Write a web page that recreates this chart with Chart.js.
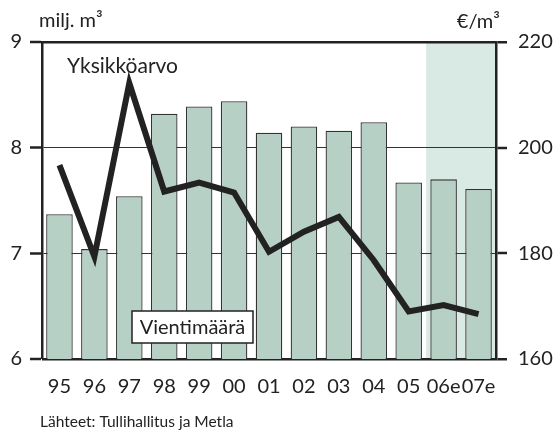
<!DOCTYPE html>
<html>
<head>
<meta charset="utf-8">
<script src="https://cdn.jsdelivr.net/npm/chart.js@4"></script>
<style>
  html, body { margin: 0; padding: 0; background: #fff; }
  #wrap { width: 556px; height: 431px; }
</style>
</head>
<body>
<div id="wrap"><canvas id="myChart" width="556" height="431"></canvas></div>
<script>
// data
const years = ['95', '96', '97', '98', '99', '00', '01', '02', '03', '04', '05', '06e', '07e'];
const exportVolume = [7.37, 7.04, 7.54, 8.32, 8.39, 8.44, 8.14, 8.20, 8.16, 8.24, 7.67, 7.70, 7.61]; // milj. m3
const unitValue = [196.7, 179.4, 212.2, 191.7, 193.4, 191.5, 180.3, 184.1, 186.9, 178.7, 169.0, 170.2, 168.5]; // €/m3
const leftTicks = [6, 7, 8, 9];
const rightTicks = [160, 180, 200, 220];
const forecastFrom = 11; // first estimated year (06e)

const FONT = 'Lato, "Open Sans", sans-serif';
const INK = '#222';

const overlay = {
	id: 'overlay',
	beforeDraw(chart) {
		// shaded forecast zone
		const ctx = chart.ctx, a = chart.chartArea, x = chart.scales.x;
		const step = x.getPixelForValue(1) - x.getPixelForValue(0);
		const x0 = x.getPixelForValue(forecastFrom) - step / 2;
		ctx.save();
		ctx.fillStyle = '#d9e9e3';
		ctx.fillRect(x0, a.top, a.right - x0, a.bottom - a.top);
		ctx.restore();
	},
	afterDraw(chart) {
		const ctx = chart.ctx, a = chart.chartArea;
		ctx.save();
		ctx.fillStyle = INK;
		ctx.textBaseline = 'alphabetic';
		ctx.font = '20px ' + FONT;
		ctx.textAlign = 'left';
		ctx.fillText('milj. m³', a.left - 3, 27);
		ctx.textAlign = 'right';
		ctx.fillText('€/m³', a.right + 4, 28);

		ctx.textAlign = 'left';
		ctx.font = '21px ' + FONT;
		ctx.fillText('Yksikköarvo', a.left + 25, a.top + 31);

		// boxed label
		const bx = a.left + 90, by = a.top + 269, bw = 121, bh = 32;
		ctx.fillStyle = '#fff';
		ctx.fillRect(bx, by, bw, bh);
		ctx.strokeStyle = INK;
		ctx.lineWidth = 1.5;
		ctx.strokeRect(bx, by, bw, bh);
		ctx.fillStyle = INK;
		ctx.textAlign = 'center';
		ctx.font = '20px ' + FONT;
		ctx.fillText('Vientimäärä', bx + bw / 2, by + 23);

		ctx.textAlign = 'left';
		ctx.font = '15.5px ' + FONT;
		ctx.fillText('Lähteet: Tullihallitus ja Metla', 40, 427);
		ctx.restore();
	}
};

const canvas = document.getElementById('myChart').getContext('2d');

const chartConfig = {
	type: 'bar',
	data: {
		labels: years,
		datasets: [
			{
				type: 'line',
				label: 'Yksikköarvo',
				data: unitValue,
				yAxisID: 'y1',
				borderColor: INK,
				borderWidth: 6,
				borderJoinStyle: 'miter',
				pointRadius: 0,
				tension: 0,
				order: 0,
			},
			{
				label: 'Vientimäärä',
				data: exportVolume,
				yAxisID: 'y',
				backgroundColor: '#b7d0c5',
				borderColor: '#333',
				borderWidth: 1.3,
				barPercentage: 0.76,
				categoryPercentage: 1,
				order: 1,
			},
		],
	},
	options: {
		responsive: false,
		animation: false,
		layout: { padding: { top: 42, bottom: 27, left: 0, right: 0 } },
		plugins: {
			legend: { display: false },
			tooltip: { enabled: false },
		},
		scales: {
			x: {
				grid: { display: false, drawTicks: false },
				border: { display: false },
				ticks: {
					color: INK,
					font: { family: FONT, size: 20 },
					padding: 16,
					autoSkip: false,
					maxRotation: 0,
				},
				afterFit: (s) => { s.height = 45; },
			},
			y: {
				position: 'left',
				min: 6,
				max: 9,
				afterBuildTicks: (s) => { s.ticks = leftTicks.map((v) => ({ value: v })); },
				grid: {
					color: '#333',
					lineWidth: (c) => (c.tick && (c.tick.value === 7 || c.tick.value === 8) ? 1 : 0),
					tickLength: 12,
					tickWidth: 2.5,
					tickColor: INK,
				},
				border: { display: true, width: 2.5, color: INK },
				ticks: {
					color: INK,
					font: { family: FONT, size: 20 },
					padding: 8,
				},
				afterFit: (s) => { s.width = 42; },
			},
			y1: {
				position: 'right',
				min: 160,
				max: 220,
				z: 1,
				afterBuildTicks: (s) => { s.ticks = rightTicks.map((v) => ({ value: v })); },
				grid: {
					color: INK,
					lineWidth: (c) => (c.tick && (c.tick.value === 160 || c.tick.value === 220) ? 2.5 : 0),
					tickLength: 11,
					tickWidth: 2.5,
					tickColor: INK,
				},
				border: { display: true, width: 2.5, color: INK },
				ticks: {
					color: INK,
					font: { family: FONT, size: 20 },
					padding: 11,
				},
				afterFit: (s) => { s.width = 60; },
			},
		},
	},
	plugins: [overlay],
};

let myChart = new Chart(canvas, chartConfig);
</script>
</body>
</html>
